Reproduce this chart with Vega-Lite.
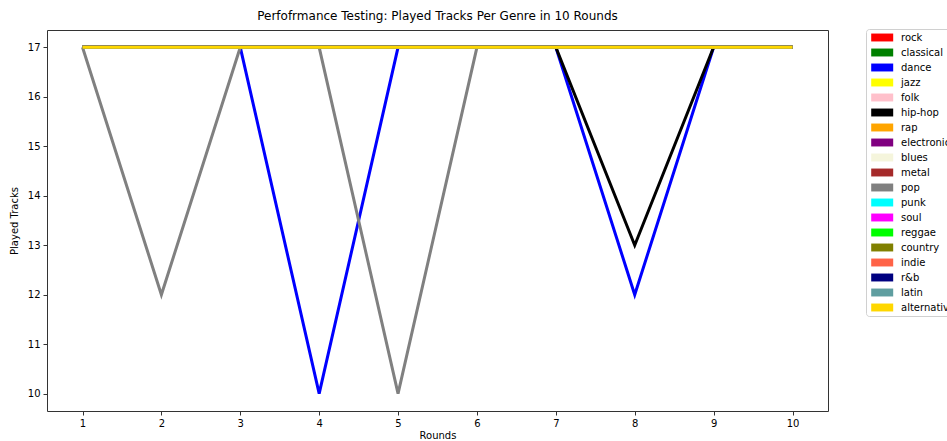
{
  "$schema": "https://vega.github.io/schema/vega-lite/v6.json",
  "autosize": "none",
  "width": 781,
  "height": 381,
  "padding": {"left": 47, "top": 30, "right": 119, "bottom": 30},
  "background": "white",
  "title": {"text": "Perfofrmance Testing: Played Tracks Per Genre in 10 Rounds", "font": "DejaVu Sans", "fontSize": 12, "fontWeight": "normal", "color": "#000", "offset": 6},
  "config": {
    "view": {"stroke": "#333", "strokeWidth": 1},
    "axis": {"labelFont": "DejaVu Sans", "titleFont": "DejaVu Sans", "labelFontSize": 10, "titleFontSize": 10, "titleFontWeight": "normal", "labelColor": "#000", "titleColor": "#000", "tickColor": "#333", "tickSize": 4, "domain": false, "grid": false, "labelPadding": 3},
    "legend": {"labelFont": "DejaVu Sans", "labelFontSize": 10, "labelColor": "#000"}
  },
  "data": {"values": [
    {"r":1,"g":"rock","v":17},{"r":2,"g":"rock","v":17},{"r":3,"g":"rock","v":17},{"r":4,"g":"rock","v":17},{"r":5,"g":"rock","v":17},{"r":6,"g":"rock","v":17},{"r":7,"g":"rock","v":17},{"r":8,"g":"rock","v":17},{"r":9,"g":"rock","v":17},{"r":10,"g":"rock","v":17},
    {"r":1,"g":"classical","v":17},{"r":2,"g":"classical","v":17},{"r":3,"g":"classical","v":17},{"r":4,"g":"classical","v":17},{"r":5,"g":"classical","v":17},{"r":6,"g":"classical","v":17},{"r":7,"g":"classical","v":17},{"r":8,"g":"classical","v":17},{"r":9,"g":"classical","v":17},{"r":10,"g":"classical","v":17},
    {"r":1,"g":"dance","v":17},{"r":2,"g":"dance","v":17},{"r":3,"g":"dance","v":17},{"r":4,"g":"dance","v":10},{"r":5,"g":"dance","v":17},{"r":6,"g":"dance","v":17},{"r":7,"g":"dance","v":17},{"r":8,"g":"dance","v":12},{"r":9,"g":"dance","v":17},{"r":10,"g":"dance","v":17},
    {"r":1,"g":"jazz","v":17},{"r":2,"g":"jazz","v":17},{"r":3,"g":"jazz","v":17},{"r":4,"g":"jazz","v":17},{"r":5,"g":"jazz","v":17},{"r":6,"g":"jazz","v":17},{"r":7,"g":"jazz","v":17},{"r":8,"g":"jazz","v":17},{"r":9,"g":"jazz","v":17},{"r":10,"g":"jazz","v":17},
    {"r":1,"g":"folk","v":17},{"r":2,"g":"folk","v":17},{"r":3,"g":"folk","v":17},{"r":4,"g":"folk","v":17},{"r":5,"g":"folk","v":17},{"r":6,"g":"folk","v":17},{"r":7,"g":"folk","v":17},{"r":8,"g":"folk","v":17},{"r":9,"g":"folk","v":17},{"r":10,"g":"folk","v":17},
    {"r":1,"g":"hip-hop","v":17},{"r":2,"g":"hip-hop","v":17},{"r":3,"g":"hip-hop","v":17},{"r":4,"g":"hip-hop","v":17},{"r":5,"g":"hip-hop","v":17},{"r":6,"g":"hip-hop","v":17},{"r":7,"g":"hip-hop","v":17},{"r":8,"g":"hip-hop","v":13},{"r":9,"g":"hip-hop","v":17},{"r":10,"g":"hip-hop","v":17},
    {"r":1,"g":"rap","v":17},{"r":2,"g":"rap","v":17},{"r":3,"g":"rap","v":17},{"r":4,"g":"rap","v":17},{"r":5,"g":"rap","v":17},{"r":6,"g":"rap","v":17},{"r":7,"g":"rap","v":17},{"r":8,"g":"rap","v":17},{"r":9,"g":"rap","v":17},{"r":10,"g":"rap","v":17},
    {"r":1,"g":"electronic","v":17},{"r":2,"g":"electronic","v":17},{"r":3,"g":"electronic","v":17},{"r":4,"g":"electronic","v":17},{"r":5,"g":"electronic","v":17},{"r":6,"g":"electronic","v":17},{"r":7,"g":"electronic","v":17},{"r":8,"g":"electronic","v":17},{"r":9,"g":"electronic","v":17},{"r":10,"g":"electronic","v":17},
    {"r":1,"g":"blues","v":17},{"r":2,"g":"blues","v":17},{"r":3,"g":"blues","v":17},{"r":4,"g":"blues","v":17},{"r":5,"g":"blues","v":17},{"r":6,"g":"blues","v":17},{"r":7,"g":"blues","v":17},{"r":8,"g":"blues","v":17},{"r":9,"g":"blues","v":17},{"r":10,"g":"blues","v":17},
    {"r":1,"g":"metal","v":17},{"r":2,"g":"metal","v":17},{"r":3,"g":"metal","v":17},{"r":4,"g":"metal","v":17},{"r":5,"g":"metal","v":17},{"r":6,"g":"metal","v":17},{"r":7,"g":"metal","v":17},{"r":8,"g":"metal","v":17},{"r":9,"g":"metal","v":17},{"r":10,"g":"metal","v":17},
    {"r":1,"g":"pop","v":17},{"r":2,"g":"pop","v":12},{"r":3,"g":"pop","v":17},{"r":4,"g":"pop","v":17},{"r":5,"g":"pop","v":10},{"r":6,"g":"pop","v":17},{"r":7,"g":"pop","v":17},{"r":8,"g":"pop","v":17},{"r":9,"g":"pop","v":17},{"r":10,"g":"pop","v":17},
    {"r":1,"g":"punk","v":17},{"r":2,"g":"punk","v":17},{"r":3,"g":"punk","v":17},{"r":4,"g":"punk","v":17},{"r":5,"g":"punk","v":17},{"r":6,"g":"punk","v":17},{"r":7,"g":"punk","v":17},{"r":8,"g":"punk","v":17},{"r":9,"g":"punk","v":17},{"r":10,"g":"punk","v":17},
    {"r":1,"g":"soul","v":17},{"r":2,"g":"soul","v":17},{"r":3,"g":"soul","v":17},{"r":4,"g":"soul","v":17},{"r":5,"g":"soul","v":17},{"r":6,"g":"soul","v":17},{"r":7,"g":"soul","v":17},{"r":8,"g":"soul","v":17},{"r":9,"g":"soul","v":17},{"r":10,"g":"soul","v":17},
    {"r":1,"g":"reggae","v":17},{"r":2,"g":"reggae","v":17},{"r":3,"g":"reggae","v":17},{"r":4,"g":"reggae","v":17},{"r":5,"g":"reggae","v":17},{"r":6,"g":"reggae","v":17},{"r":7,"g":"reggae","v":17},{"r":8,"g":"reggae","v":17},{"r":9,"g":"reggae","v":17},{"r":10,"g":"reggae","v":17},
    {"r":1,"g":"country","v":17},{"r":2,"g":"country","v":17},{"r":3,"g":"country","v":17},{"r":4,"g":"country","v":17},{"r":5,"g":"country","v":17},{"r":6,"g":"country","v":17},{"r":7,"g":"country","v":17},{"r":8,"g":"country","v":17},{"r":9,"g":"country","v":17},{"r":10,"g":"country","v":17},
    {"r":1,"g":"indie","v":17},{"r":2,"g":"indie","v":17},{"r":3,"g":"indie","v":17},{"r":4,"g":"indie","v":17},{"r":5,"g":"indie","v":17},{"r":6,"g":"indie","v":17},{"r":7,"g":"indie","v":17},{"r":8,"g":"indie","v":17},{"r":9,"g":"indie","v":17},{"r":10,"g":"indie","v":17},
    {"r":1,"g":"r&b","v":17},{"r":2,"g":"r&b","v":17},{"r":3,"g":"r&b","v":17},{"r":4,"g":"r&b","v":17},{"r":5,"g":"r&b","v":17},{"r":6,"g":"r&b","v":17},{"r":7,"g":"r&b","v":17},{"r":8,"g":"r&b","v":17},{"r":9,"g":"r&b","v":17},{"r":10,"g":"r&b","v":17},
    {"r":1,"g":"latin","v":17},{"r":2,"g":"latin","v":17},{"r":3,"g":"latin","v":17},{"r":4,"g":"latin","v":17},{"r":5,"g":"latin","v":17},{"r":6,"g":"latin","v":17},{"r":7,"g":"latin","v":17},{"r":8,"g":"latin","v":17},{"r":9,"g":"latin","v":17},{"r":10,"g":"latin","v":17},
    {"r":1,"g":"alternative","v":17},{"r":2,"g":"alternative","v":17},{"r":3,"g":"alternative","v":17},{"r":4,"g":"alternative","v":17},{"r":5,"g":"alternative","v":17},{"r":6,"g":"alternative","v":17},{"r":7,"g":"alternative","v":17},{"r":8,"g":"alternative","v":17},{"r":9,"g":"alternative","v":17},{"r":10,"g":"alternative","v":17}
  ]},
  "mark": {"type": "line", "strokeWidth": 3, "clip": true},
  "encoding": {
    "x": {"field": "r", "type": "quantitative", "title": "Rounds", "scale": {"domain": [0.55, 10.45], "nice": false, "zero": false}, "axis": {"values": [1,2,3,4,5,6,7,8,9,10], "titlePadding": 2}},
    "y": {"field": "v", "type": "quantitative", "title": "Played Tracks", "scale": {"domain": [9.65, 17.35], "nice": false, "zero": false}, "axis": {"values": [10,11,12,13,14,15,16,17], "titlePadding": 8}},
    "color": {"field": "g", "type": "nominal", "title": null,
      "scale": {"domain": ["rock","classical","dance","jazz","folk","hip-hop","rap","electronic","blues","metal","pop","punk","soul","reggae","country","indie","r&b","latin","alternative"],
        "range": ["#ff0000","#008000","#0000ff","#ffff00","#ffc0cb","#000000","#ffa500","#800080","#f5f5dc","#a52a2a","#808080","#00ffff","#ff00ff","#00ff00","#808000","#ff6347","#000080","#5f9ea0","#ffd700"]},
      "legend": {"orient": "none", "legendX": 819, "legendY": -1, "symbolType": "M-0.6,-0.72H3.4V0.72H-0.6Z", "symbolSize": 121, "symbolStrokeWidth": 0, "rowPadding": 4, "labelOffset": 21, "padding": 3, "strokeColor": "#d0d0d0", "cornerRadius": 3, "fillColor": "white", "labelLimit": 200,
        "encode": {"symbols": {"update": {"fill": {"scale": "color", "field": "value"}, "fillOpacity": {"value": 1}}}}}
    }
  }
}
